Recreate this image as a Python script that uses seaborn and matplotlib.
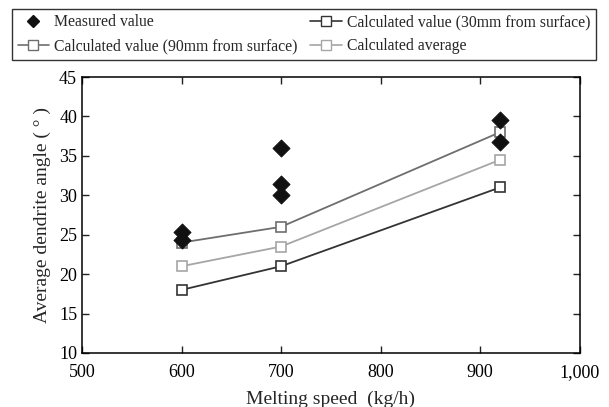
import pandas as pd
import seaborn as sns
import matplotlib.pyplot as plt
from matplotlib.lines import Line2D

# measured points (several samples per melting speed)
measured_speed = [600, 600, 700, 700, 700, 920, 920]
measured_angle = [25.3, 24.3, 36.0, 31.4, 30.0, 39.6, 36.8]

# calculated values
calc_speed = [600, 700, 920]
calc_30mm = [18.0, 21.0, 31.0]
calc_90mm = [24.0, 26.0, 38.0]
calc_avg = [21.0, 23.5, 34.5]

x_ticks = [500, 600, 700, 800, 900, 1000]
x_tick_labels = ["500", "600", "700", "800", "900", "1,000"]
y_ticks = [10, 15, 20, 25, 30, 35, 40, 45]

sns.set_style("ticks")
plt.rcParams["font.family"] = ["Liberation Serif", "DejaVu Serif"]

fig = plt.figure(figsize=(6.09, 4.07), dpi=100)
ax = fig.add_axes([0.1346, 0.1327, 0.8174, 0.6781])

df_calc = pd.DataFrame({"speed": calc_speed, "c30": calc_30mm,
                        "c90": calc_90mm, "avg": calc_avg})
df_meas = pd.DataFrame({"speed": measured_speed, "angle": measured_angle})

# (column, colour, label)
series = [
    ("c30", "#333333", "Calculated value (30mm from surface)"),
    ("c90", "#6e6e6e", "Calculated value (90mm from surface)"),
    ("avg", "#a6a6a6", "Calculated average"),
]
for col, c, lab in series:
    sns.lineplot(data=df_calc, x="speed", y=col, ax=ax, color=c, lw=1.3,
                 marker="s", markersize=7.5, markerfacecolor="white",
                 markeredgecolor=c, markeredgewidth=1.2, zorder=2)

sns.scatterplot(data=df_meas, x="speed", y="angle", ax=ax, marker="D",
                color="#111111", s=75, edgecolor="#111111", zorder=3)

ax.set_xlim(500, 1000)
ax.set_ylim(10, 45)
ax.set_xticks(x_ticks)
ax.set_xticklabels(x_tick_labels)
ax.set_yticks(y_ticks)
ax.tick_params(direction="in", length=5, width=1, labelsize=13, top=True,
               right=True, colors="#222222", labelcolor="black")
ax.tick_params(axis="x", pad=8)
for s in ax.spines.values():
    s.set_linewidth(1.1)
    s.set_color("black")

ax.set_xlabel("Melting speed  (kg/h)", fontsize=14, labelpad=7)
ax.set_ylabel("Average dendrite angle ( ° )", fontsize=14, labelpad=6)

# legend handles, ordered so ncol=2 reads row-wise
h_meas = Line2D([], [], ls="none", marker="D", color="#111111", markersize=6.5)
h = {}
for col, c, lab in series:
    h[col] = Line2D([], [], color=c, lw=1.2, marker="s", markersize=6.5,
                    markerfacecolor="white", markeredgecolor=c)
handles = [h_meas, h["c90"], h["c30"], h["avg"]]
labels = ["Measured value", series[1][2], series[0][2], series[2][2]]
fig.legend(handles, labels, loc="lower left", ncol=2, mode="expand",
           bbox_to_anchor=(0.0197, 0.8526, 0.959, 0.12), fontsize=11.3,
           frameon=True, fancybox=False, edgecolor="black", handlelength=2.0,
           handletextpad=0.32, borderaxespad=0, labelspacing=0.5,
           borderpad=0.36, columnspacing=1.0)
fig.legends[0].get_frame().set_linewidth(1.0)

fig.savefig("out.png", dpi=100)
